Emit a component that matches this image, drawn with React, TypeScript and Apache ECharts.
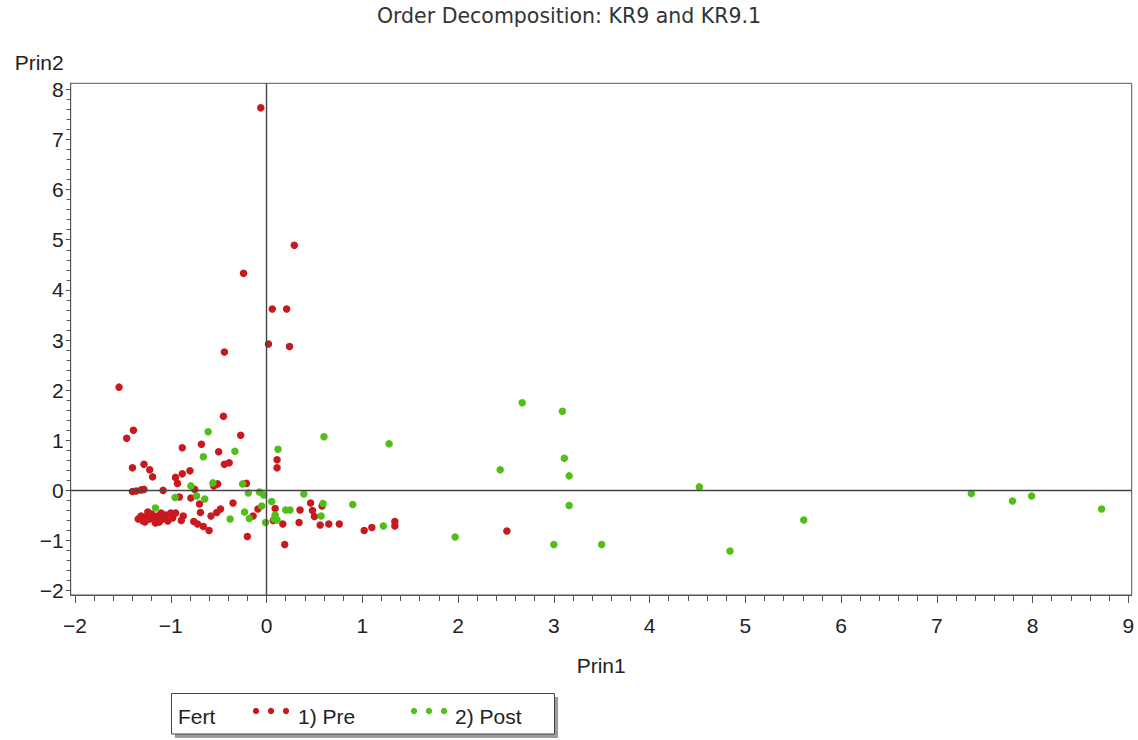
import React, { useEffect, useRef } from "react";
import * as echarts from "echarts";

const TITLE = "Order Decomposition: KR9 and KR9.1";
const X_NAME = "Prin1";
const Y_NAME = "Prin2";
const LEGEND_TITLE = "Fert";
const SERIES_NAMES = ["1) Pre", "2) Post"];
const SERIES_COLORS = ["#c8191e", "#52be1a"];

const X_MIN = -2.045;
const X_MAX = 9.035;
const Y_MIN = -2.086;
const Y_MAX = 8.12;
const X_TICKS = [-2, -1, 0, 1, 2, 3, 4, 5, 6, 7, 8, 9];
const Y_TICKS = [-2, -1, 0, 1, 2, 3, 4, 5, 6, 7, 8];

// Fert = 1) Pre
const PRE: number[][] = [
  [-0.06, 7.63], [0.29, 4.89], [-0.24, 4.33], [0.06, 3.62], [0.21, 3.62],
  [0.02, 2.92], [0.24, 2.87], [-0.44, 2.76], [-1.54, 2.06], [-1.39, 1.2],
  [-1.46, 1.04], [-0.45, 1.48], [-0.27, 1.1], [-0.88, 0.85], [-0.68, 0.92],
  [-0.5, 0.77], [0.11, 0.61], [0.11, 0.45], [-1.4, 0.45], [-1.28, 0.52],
  [-1.22, 0.41], [-1.19, 0.27], [-0.88, 0.33], [-0.8, 0.39], [-0.95, 0.26],
  [-0.93, 0.14], [-0.44, 0.52], [-0.39, 0.55], [-1.4, -0.02], [-1.36, -0.01],
  [-1.31, 0.01], [-1.28, 0.02], [-1.08, 0.0], [-0.75, 0.02], [-0.51, 0.13],
  [-0.55, 0.09], [-0.21, 0.14], [-0.91, -0.13], [-0.79, -0.15], [-0.7, -0.27],
  [-0.35, -0.25], [0.09, -0.36], [-0.09, -0.37], [-0.48, -0.37], [-0.52, -0.44],
  [-0.58, -0.51], [-0.69, -0.44], [-0.14, -0.51], [0.07, -0.6], [0.17, -0.67],
  [-0.2, -0.92], [0.19, -1.08], [0.35, -0.39], [0.34, -0.64], [0.46, -0.25],
  [0.48, -0.4], [0.5, -0.52], [0.58, -0.31], [0.56, -0.69], [0.65, -0.67],
  [0.76, -0.67], [1.02, -0.8], [1.1, -0.74], [1.34, -0.62], [1.34, -0.71],
  [-0.6, -0.8], [-0.66, -0.72], [-0.72, -0.67], [-0.76, -0.62], [-0.87, -0.51],
  [-0.89, -0.6], [2.51, -0.81],
  [-1.34, -0.57], [-1.31, -0.51], [-1.29, -0.61], [-1.26, -0.53], [-1.24, -0.43],
  [-1.22, -0.57], [-1.2, -0.47], [-1.17, -0.59], [-1.14, -0.51], [-1.12, -0.63],
  [-1.1, -0.45], [-1.08, -0.57], [-1.05, -0.49], [-1.03, -0.61], [-1.0, -0.45],
  [-0.98, -0.55], [-0.95, -0.45], [-1.27, -0.63], [-1.16, -0.65],
];

// Fert = 2) Post
const POST: number[][] = [
  [-0.61, 1.17], [-0.33, 0.78], [-0.66, 0.67], [0.12, 0.82], [-0.79, 0.09],
  [-0.56, 0.15], [-0.25, 0.13], [-0.955, -0.14], [-0.73, -0.11], [-0.645, -0.17],
  [-0.19, -0.05], [-0.075, -0.03], [-0.03, -0.09], [0.054, -0.22], [-0.05, -0.31],
  [-1.16, -0.35], [-0.23, -0.43], [-0.18, -0.56], [-0.38, -0.57], [0.09, -0.49],
  [0.08, -0.57], [0.11, -0.59], [-0.01, -0.64], [0.2, -0.39], [0.245, -0.39],
  [0.39, -0.07], [0.59, -0.26], [0.57, -0.51], [0.9, -0.28], [1.22, -0.71],
  [0.6, 1.07], [1.28, 0.93], [1.97, -0.93], [2.67, 1.75], [3.09, 1.58],
  [3.11, 0.64], [2.44, 0.41], [3.16, 0.29], [3.16, -0.3], [3.0, -1.08],
  [3.5, -1.08], [4.52, 0.07], [4.84, -1.21], [5.61, -0.59], [7.36, -0.06],
  [7.79, -0.21], [7.99, -0.11], [8.72, -0.37],
];

const FONT = '"Liberation Sans", Arial, Helvetica, sans-serif';
const TEXT_COLOR = "#222";
const AXIS_COLOR = "#555";

function minorTicks(major: number[]): number[] {
  const out: number[] = [];
  for (let i = 0; i < major.length - 1; i++) {
    for (let k = 1; k < 5; k++) out.push(+(major[i] + (k * (major[i + 1] - major[i])) / 5).toFixed(4));
  }
  return out;
}

const fmt = (v: number) => (v < 0 ? "\u2212" + Math.abs(v) : String(v));

export default function App() {
  const ref = useRef<HTMLDivElement>(null);
  useEffect(() => {
    if (!ref.current) return;
    const chart = echarts.init(ref.current, undefined, { renderer: "svg" });
    const xMinor = minorTicks(X_TICKS);
    const yMinor = minorTicks(Y_TICKS);
    const legendY = 716;
    const dotY = 711;
    const option: any = {
      animation: false,
      backgroundColor: "#ffffff",
      title: {
        text: TITLE,
        left: "center",
        top: 5,
        padding: 0,
        textStyle: { fontFamily: '"DejaVu Sans", sans-serif', fontSize: 20.5, fontWeight: "normal", color: "#333" },
      },
      grid: {
        left: 70.7,
        right: 6.3,
        top: 83.3,
        bottom: 145,
        show: true,
        borderColor: AXIS_COLOR,
        borderWidth: 1,
        backgroundColor: "transparent",
      },
      xAxis: [
        {
          type: "value",
          min: X_MIN,
          max: X_MAX,
          name: X_NAME,
          nameLocation: "middle",
          nameGap: 60,
          nameTextStyle: { fontFamily: FONT, fontSize: 21, color: TEXT_COLOR },
          axisLine: { show: true, onZero: false, lineStyle: { color: AXIS_COLOR, width: 1 } },
          axisTick: { show: true, customValues: X_TICKS, length: 8, lineStyle: { color: AXIS_COLOR } },
          axisLabel: { customValues: X_TICKS, formatter: fmt, margin: 20, fontFamily: FONT, fontSize: 21, color: TEXT_COLOR },
          splitLine: { show: false },
        },
        {
          type: "value",
          min: X_MIN,
          max: X_MAX,
          position: "bottom",
          axisLine: { show: false, onZero: false },
          axisTick: { show: true, customValues: xMinor, length: 6, lineStyle: { color: AXIS_COLOR } },
          axisLabel: { show: false },
          splitLine: { show: false },
        },
      ],
      yAxis: [
        {
          type: "value",
          min: Y_MIN,
          max: Y_MAX,
          name: Y_NAME,
          nameLocation: "end",
          nameGap: 10,
          nameTextStyle: { fontFamily: FONT, fontSize: 21, color: TEXT_COLOR, align: "right", verticalAlign: "bottom", padding: [0, 7, 0, 0] },
          axisLine: { show: true, onZero: false, lineStyle: { color: AXIS_COLOR, width: 1 } },
          axisTick: { show: true, customValues: Y_TICKS, length: 5, lineStyle: { color: AXIS_COLOR } },
          axisLabel: { customValues: Y_TICKS, formatter: fmt, margin: 7, fontFamily: FONT, fontSize: 21, color: TEXT_COLOR },
          splitLine: { show: false },
        },
        {
          type: "value",
          min: Y_MIN,
          max: Y_MAX,
          position: "left",
          axisLine: { show: false, onZero: false },
          axisTick: { show: true, customValues: yMinor, length: 4, lineStyle: { color: AXIS_COLOR } },
          axisLabel: { show: false },
          splitLine: { show: false },
        },
      ],
      series: [
        {
          type: "scatter",
          name: "ref",
          data: [],
          z: 1,
          silent: true,
          markLine: {
            silent: true,
            symbol: ["none", "none"],
            label: { show: false },
            lineStyle: { color: "#444", width: 1.4, type: "solid" },
            data: [{ xAxis: 0 }, { yAxis: 0 }],
          },
        },
        {
          type: "scatter",
          name: SERIES_NAMES[0],
          data: PRE,
          symbol: "circle",
          symbolSize: 7.5,
          z: 3,
          itemStyle: { color: SERIES_COLORS[0], opacity: 1 },
        },
        {
          type: "scatter",
          name: SERIES_NAMES[1],
          data: POST,
          symbol: "circle",
          symbolSize: 7.5,
          z: 4,
          itemStyle: { color: SERIES_COLORS[1], opacity: 1 },
        },
      ],
      graphic: [
        { type: "rect", z: 10, shape: { x: 175, y: 697, width: 383, height: 41 }, style: { fill: "#9c9c9c" } },
        { type: "rect", z: 11, shape: { x: 171.5, y: 693.5, width: 383, height: 40.5 }, style: { fill: "#ffffff", stroke: "#444", lineWidth: 1 } },
        { type: "text", z: 12, x: 178, y: legendY, style: { text: LEGEND_TITLE, font: `21px ${FONT}`, fill: TEXT_COLOR, align: "left", verticalAlign: "middle" } },
        { type: "circle", z: 12, shape: { cx: 256, cy: dotY, r: 3.2 }, style: { fill: SERIES_COLORS[0] } },
        { type: "circle", z: 12, shape: { cx: 271, cy: dotY, r: 3.2 }, style: { fill: SERIES_COLORS[0] } },
        { type: "circle", z: 12, shape: { cx: 286, cy: dotY, r: 3.2 }, style: { fill: SERIES_COLORS[0] } },
        { type: "text", z: 12, x: 298, y: legendY, style: { text: SERIES_NAMES[0], font: `21px ${FONT}`, fill: TEXT_COLOR, align: "left", verticalAlign: "middle" } },
        { type: "circle", z: 12, shape: { cx: 414, cy: dotY, r: 3.2 }, style: { fill: SERIES_COLORS[1] } },
        { type: "circle", z: 12, shape: { cx: 429, cy: dotY, r: 3.2 }, style: { fill: SERIES_COLORS[1] } },
        { type: "circle", z: 12, shape: { cx: 444, cy: dotY, r: 3.2 }, style: { fill: SERIES_COLORS[1] } },
        { type: "text", z: 12, x: 455, y: legendY, style: { text: SERIES_NAMES[1], font: `21px ${FONT}`, fill: TEXT_COLOR, align: "left", verticalAlign: "middle" } },
      ],
    };
    chart.setOption(option);
    return () => chart.dispose();
  }, []);
  return <div ref={ref} style={{ position: "fixed", left: 0, top: 0, width: 1138, height: 740, background: "#fff" }} />;
}
